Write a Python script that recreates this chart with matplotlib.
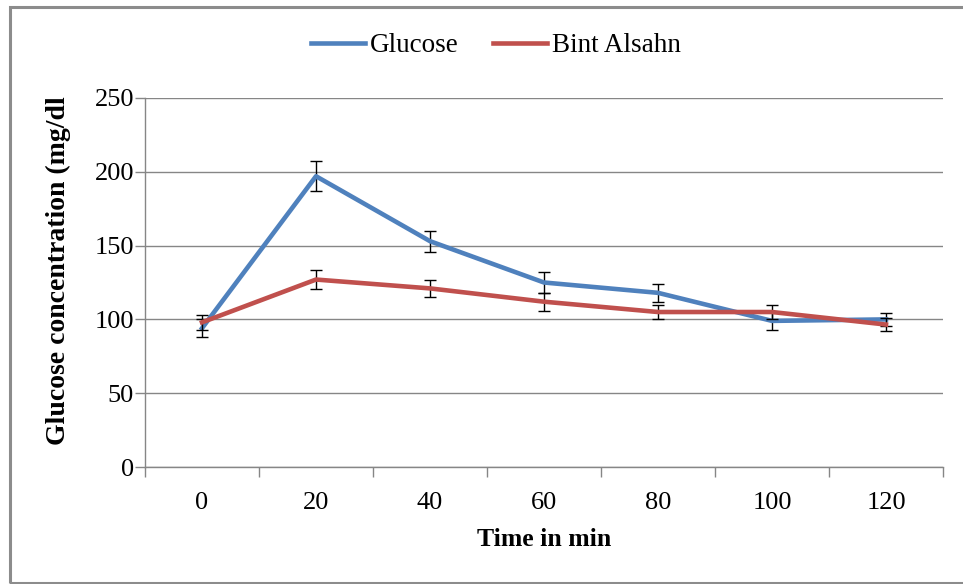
import matplotlib
matplotlib.use("Agg")
import matplotlib.pyplot as plt
from matplotlib.patches import Rectangle
import numpy as np

# Time points (min) and mean blood glucose (mg/dl) with error-bar half widths
time_labels = ["0", "20", "40", "60", "80", "100", "120"]
glucose = [94, 197, 153, 125, 118, 99, 100]
glucose_err = [6, 10, 7, 7, 6, 6, 4.5]
bint_alsahn = [98, 127, 121, 112, 105, 105, 96.5]
bint_alsahn_err = [5, 6.5, 5.5, 6, 5, 5, 4.5]

y_ticks = [0, 50, 100, 150, 200, 250]

blue = "#4F81BD"
red = "#C0504D"
grid_gray = "#868686"

plt.rcParams["font.family"] = ["Liberation Serif", "DejaVu Serif"]

fig = plt.figure(figsize=(9.63, 5.84), dpi=100)
W, H = 963, 584
ax = fig.add_axes([145 / W, 1 - 467 / H, (943 - 145) / W, (467 - 98) / H])

x = np.arange(len(time_labels))

ax.errorbar(x, glucose, yerr=glucose_err, color=blue, lw=3.3, ecolor="black",
            elinewidth=1.0, capsize=4.5, capthick=1.0, label="Glucose", zorder=3)
ax.errorbar(x, bint_alsahn, yerr=bint_alsahn_err, color=red, lw=3.3, ecolor="black",
            elinewidth=1.0, capsize=4.5, capthick=1.0, label="Bint Alsahn", zorder=4)

ax.set_xlim(-0.5, len(time_labels) - 0.5)
ax.set_ylim(0, 250)
ax.set_yticks(y_ticks)
ax.set_xticks(x)
ax.set_xticklabels(time_labels)
ax.set_xticks(np.arange(-0.5, len(time_labels)), minor=True)

ax.tick_params(axis="x", which="major", length=0, pad=18, labelsize=19)
ax.tick_params(axis="x", which="minor", length=7, width=1, color=grid_gray, direction="out")
ax.tick_params(axis="y", length=7, width=1, color=grid_gray, direction="out", pad=1, labelsize=19)

ax.yaxis.grid(True, color=grid_gray, lw=1)
ax.set_axisbelow(True)
for side in ("top", "right"):
    ax.spines[side].set_visible(False)
for side in ("left", "bottom"):
    ax.spines[side].set_color(grid_gray)
    ax.spines[side].set_linewidth(1)

ax.set_xlabel("Time in min", fontsize=18.5, fontweight="bold", labelpad=10)
ax.set_ylabel("Glucose concentration (mg/dl", fontsize=20, fontweight="bold")
ax.yaxis.set_label_coords(-0.093, 0.531)

handles, labels = ax.get_legend_handles_labels()
handles = [h[0] for h in handles]
fig.legend(handles, labels, loc="center", bbox_to_anchor=(496 / W, 1 - 46 / H), ncol=2,
           frameon=False, fontsize=19.5, handlelength=2.0, columnspacing=1.25, handletextpad=0.2)

# Outer frame around the chart
fig.patches.append(Rectangle((10 / W, 1 - 583 / H), 960 / W, (583 - 7) / H,
                             transform=fig.transFigure, fill=False,
                             edgecolor="#8c8c8c", lw=2.2, zorder=0))

fig.savefig("out.png", dpi=100)
